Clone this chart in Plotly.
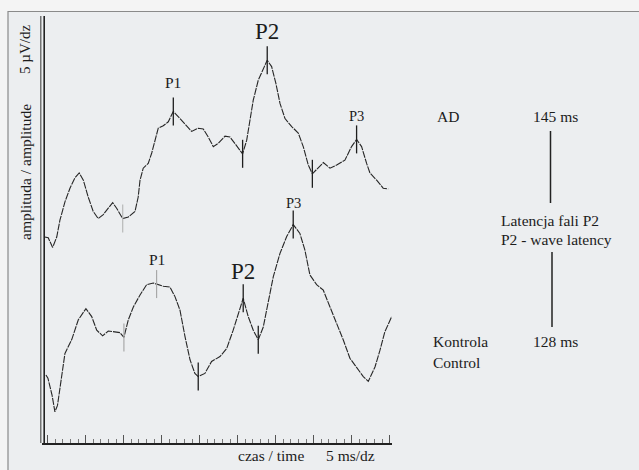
import numpy as np
import plotly.graph_objects as go

# ---------------- data (time in ms, amplitude in µV) ----------------
ad_time = [0.5, 2.8, 5.7, 8.4, 10.5, 13.8, 17.1, 20.4, 23.2, 25.9, 29.1, 32.4, 35.7, 39.0,
           42.3, 45.2, 47.8, 51.8, 55.5, 59.9, 62.0, 63.2, 65.3, 68.6, 70.9, 73.0, 75.2,
           78.5, 81.8, 85.1, 88.4, 92.8, 97.2, 101.5, 104.8, 108.1, 111.4, 114.7, 119.1,
           122.4, 126.8, 130.7, 133.4, 135.5, 137.7, 141.0, 144.3, 146.9, 149.8, 152.6,
           155.3, 158.6, 163.0, 167.3, 170.6, 173.9, 176.6, 180.5, 183.8, 188.2, 192.6,
           198.0, 202.4, 205.7, 209.0, 212.3, 214.5, 218.9, 223.2, 226.5]
ad_amp = [0.0, -0.1, -1.3, 0.0, 2.1, 4.4, 6.1, 7.4, 8.0, 7.1, 5.0, 3.2, 2.3, 2.8,
          3.6, 4.3, 3.6, 2.3, 2.5, 3.2, 5.0, 7.1, 8.6, 9.2, 10.5, 12.1, 13.6,
          13.9, 14.4, 15.7, 15.0, 14.0, 13.2, 13.6, 13.5, 12.5, 11.3, 11.7, 12.6,
          12.5, 11.3, 10.4, 12.1, 14.6, 17.1, 19.6, 21.1, 22.1, 21.3, 19.2,
          16.7, 14.8, 13.8, 13.0, 11.3, 9.0, 7.9, 8.7, 9.3, 8.6, 9.0,
          9.6, 11.3, 12.2, 11.3, 9.2, 8.0, 7.1, 6.1, 6.0]

ctrl_time = [1.3, 2.6, 5.3, 7.2, 8.9, 10.5, 13.8, 18.2, 22.6, 27.6, 31.4, 34.7, 38.6,
             42.3, 46.7, 50.0, 52.6, 55.5, 58.8, 63.2, 67.6, 71.9, 78.5, 82.9, 86.2,
             89.5, 92.8, 96.1, 99.3, 101.5, 105.9, 110.3, 115.8, 120.2, 124.5, 127.8,
             131.1, 134.4, 137.7, 141.0, 144.3, 146.5, 150.9, 155.3, 159.7, 164.0,
             168.4, 171.7, 175.0, 179.4, 183.8, 188.2, 192.6, 196.9, 201.3, 205.7,
             210.1, 213.4, 217.8, 221.1, 224.3, 228.8]
ctrl_amp = [0.0, -0.4, -2.5, -4.6, -3.8, -1.5, 2.7, 4.4, 6.9, 8.3, 7.3, 5.6, 4.9,
            5.5, 5.4, 5.3, 4.7, 6.9, 8.5, 10.0, 11.3, 11.5, 11.1, 11.0, 9.8,
            8.1, 4.8, 1.9, 0.2, -0.2, 0.2, 1.7, 2.3, 3.3, 5.6, 7.5,
            9.6, 7.3, 5.6, 4.4, 6.0, 8.1, 12.3, 15.2, 17.3, 18.8,
            17.7, 15.6, 12.5, 11.3, 10.6, 8.5, 6.5, 4.4, 2.1, 1.0,
            -0.2, -0.8, 1.0, 3.1, 5.4, 7.3]

# component markers (latency in ms)
ad_marks = [85.1, 130.7, 146.9, 176.6, 205.7]
ad_faint_marks = [51.8]
ctrl_marks = [101.5, 131.1, 141.0, 164.0]
ctrl_faint_marks = [52.6, 74.1]

ad_peak_labels = ["P1", "P2", "P3"]
ad_peak_times = [85.1, 146.9, 205.7]
ctrl_peak_labels = ["P1", "P2", "P3"]
ctrl_peak_times = [74.1, 131.1, 164.0]

latency_ad = "145 ms"
latency_ctrl = "128 ms"

# ---------------- layout helpers ----------------
W, H = 639, 470
AD_OFFSET = 25.75
CTRL_OFFSET = 8.5
FONT = "Liberation Serif, Times New Roman, DejaVu Serif, serif"
INK = "#1c1c1c"


def px(x):
    return x / W


def py(y):
    return 1 - y / H


fig = go.Figure()

fig.add_trace(go.Scatter(x=ad_time, y=np.array(ad_amp) + AD_OFFSET, mode="lines",
                         line=dict(color="#262626", width=1.1, dash="7px,1px"),
                         hoverinfo="skip", showlegend=False))
fig.add_trace(go.Scatter(x=ctrl_time, y=np.array(ctrl_amp) + CTRL_OFFSET, mode="lines",
                         line=dict(color="#262626", width=1.1, dash="7px,1px"),
                         hoverinfo="skip", showlegend=False))

shapes = []
# frame
shapes.append(dict(type="rect", xref="paper", yref="paper", x0=px(8), x1=px(645),
                   y0=py(478), y1=py(11.5), fillcolor="#eceef0",
                   line=dict(color="#8a8a8a", width=1.2), layer="below"))


def mark(t, times, amps, off, color, width):
    v = float(np.interp(t, times, amps)) + off
    return dict(type="line", xref="x", yref="y", x0=t, x1=t, y0=v - 1.75, y1=v + 1.75,
                line=dict(color=color, width=width))


for t in ad_marks:
    shapes.append(mark(t, ad_time, ad_amp, AD_OFFSET, "#1e1e1e", 1.3))
for t in ad_faint_marks:
    shapes.append(mark(t, ad_time, ad_amp, AD_OFFSET, "#b8b8b8", 1.2))
for t in ctrl_marks:
    shapes.append(mark(t, ctrl_time, ctrl_amp, CTRL_OFFSET, "#1e1e1e", 1.3))
for t in ctrl_faint_marks:
    shapes.append(mark(t, ctrl_time, ctrl_amp, CTRL_OFFSET, "#a8a8a8", 1.2))

# double vertical (amplitude) axis line
shapes.append(dict(type="line", xref="paper", yref="paper", x0=px(40.8), x1=px(40.8),
                   y0=py(443), y1=py(16), line=dict(color="#555555", width=1.2)))
shapes.append(dict(type="line", xref="paper", yref="paper", x0=px(44.2), x1=px(44.2),
                   y0=py(443), y1=py(16), line=dict(color="#222222", width=1.6)))
# latency connector lines
shapes.append(dict(type="line", xref="paper", yref="paper", x0=px(550.5), x1=px(550.5),
                   y0=py(131), y1=py(203), line=dict(color="#222222", width=1.5)))
shapes.append(dict(type="line", xref="paper", yref="paper", x0=px(552), x1=px(552),
                   y0=py(252), y1=py(327), line=dict(color="#222222", width=1.5)))

ann = []


def text(s, x, y, size=15.5, xanchor="center", angle=0, xref="paper"):
    ann.append(dict(text=s, x=x if xref == "x" else px(x), y=py(y), xref=xref, yref="paper",
                    showarrow=False, xanchor=xanchor, yanchor="middle", textangle=angle,
                    font=dict(family=FONT, size=size, color=INK)))


# peak labels
ad_label_y = [83, 31, 116]
ad_label_size = [15.5, 23, 14.5]
for lab, t, yy, sz in zip(ad_peak_labels, ad_peak_times, ad_label_y, ad_label_size):
    text(lab, t, yy, size=sz, xref="x")
ctrl_label_y = [259, 271, 203]
ctrl_label_size = [15.5, 23, 14.5]
for lab, t, yy, sz in zip(ctrl_peak_labels, ctrl_peak_times, ctrl_label_y, ctrl_label_size):
    text(lab, t, yy, size=sz, xref="x")

text("5 µV/dz", 25, 50, size=15, angle=-90)
text("amplituda / amplitude", 25, 172, size=15.5, angle=-90)
text("AD", 448, 117)
text(latency_ad, 555, 117)
text("Latencja fali P2", 550, 220)
text("P2 - wave latency", 556, 240)
text("Kontrola", 431, 341, xanchor="left")
text("Control", 431, 362, xanchor="left")
text(latency_ctrl, 555, 341)
text("czas / time", 271, 455)
text("5 ms/dz", 350, 455)

fig.update_layout(
    width=W, height=H,
    margin=dict(l=0, r=0, t=0, b=0),
    paper_bgcolor="#f4f4f4",
    plot_bgcolor="rgba(0,0,0,0)",
    shapes=shapes,
    annotations=ann,
    xaxis=dict(domain=[px(42), px(392)], range=[-1.3, 229], showgrid=False, zeroline=False,
               showline=True, linecolor="#222222", linewidth=1.5,
               ticks="inside", tick0=2.5, dtick=25, ticklen=8, tickcolor="#555555",
               tickwidth=1, showticklabels=False,
               minor=dict(ticks="inside", tick0=2.5, dtick=5, ticklen=4,
                          tickcolor="#777777", tickwidth=1)),
    yaxis=dict(domain=[py(443), py(16)], range=[0, 53.375], showgrid=False, zeroline=False,
               showline=False, ticks="", showticklabels=False),
)

fig.write_html("out.html")
